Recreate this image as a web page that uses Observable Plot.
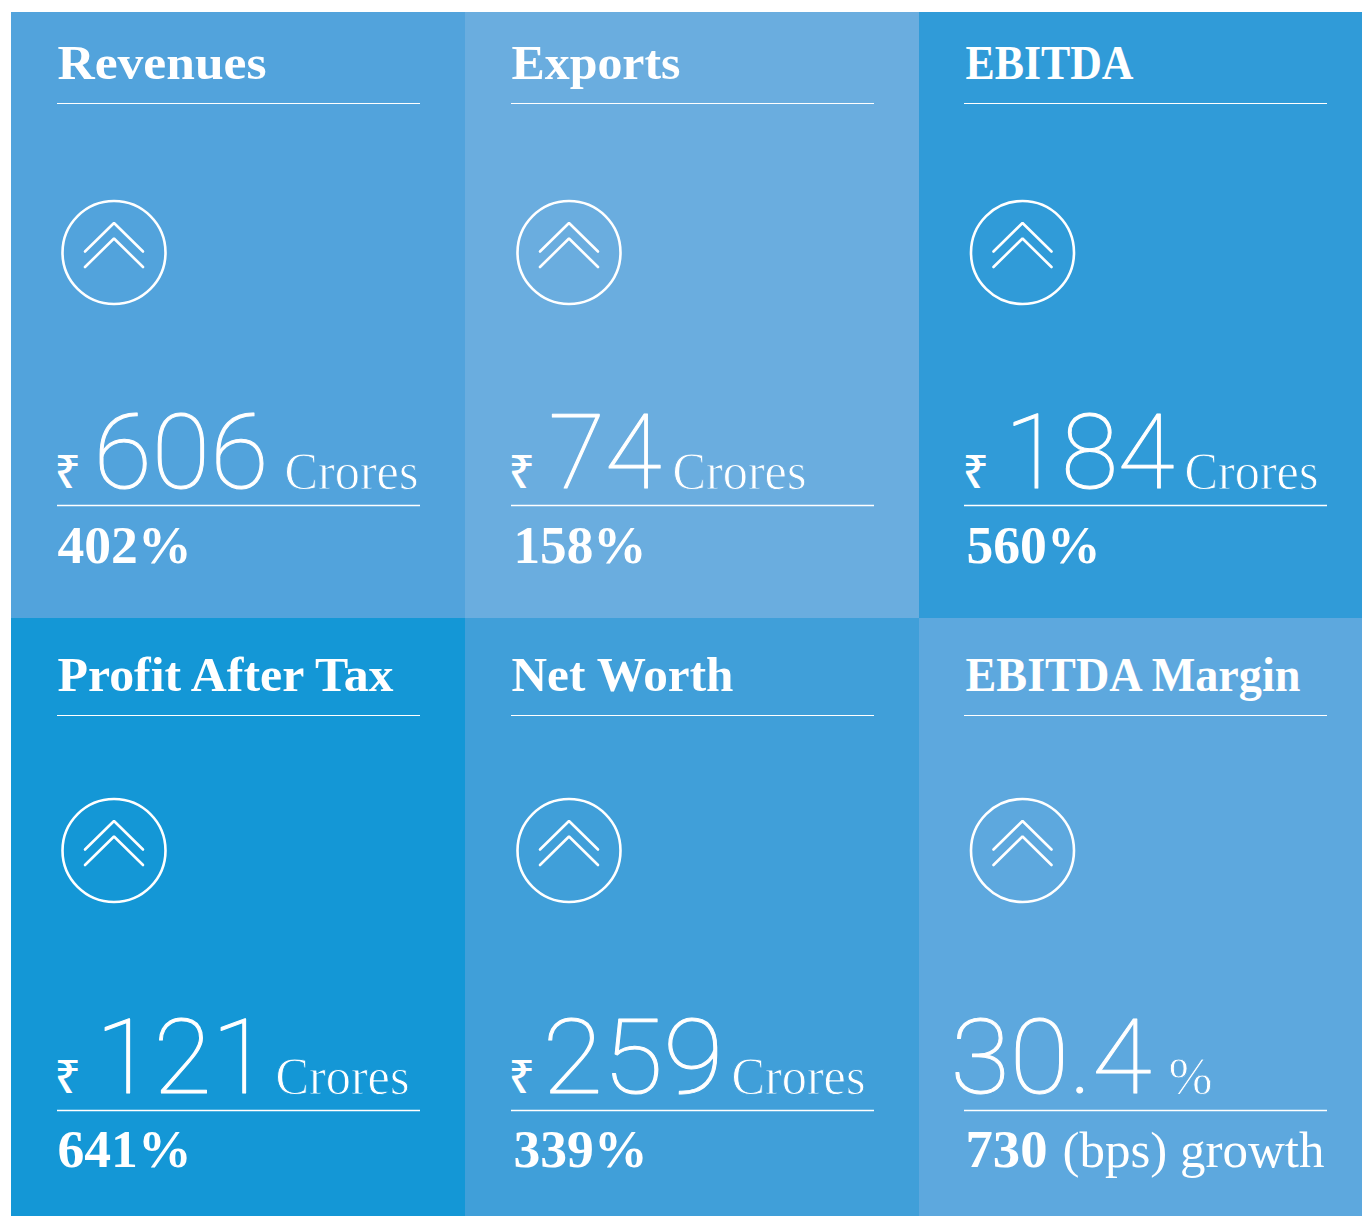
<!DOCTYPE html>
<html><head><meta charset="utf-8">
<script src="https://cdn.jsdelivr.net/npm/d3@7"></script>
<script src="https://cdn.jsdelivr.net/npm/@observablehq/plot@0.6"></script>
<style>html,body{margin:0;padding:0;background:#fff}svg{display:block}</style>
</head><body><div id="chart"></div>
<script>
const titles = ["Revenues","Exports","EBITDA","Profit After Tax","Net Worth","EBITDA Margin"];
const values = ["606","74","184","121","259","30.4"];
const units = ["Crores","Crores","Crores","Crores","Crores","%"];
const currency = ["₹","₹","₹","₹","₹",""];
const growth = ["402%","158%","560%","641%","339%","730"];
const growthSuffix = ["","","","","","(bps) growth"];
const fills = ["#52a3dc","#6aaddf","#309bd8","#1497d6","#409fd9","#5da8de"];

// layout (pixel domain = page)
const colX = [11,465,919,1362], rowY = [12,618,1216];
const textX = [57,511,965], ruleX = [57,511,964], circX = [113.5,568.5,1022];
const R = {title:[78,690], rule1:[103,715], circle:[252,850], num:[487,1092], rule2:[505,1110], pct:[562,1166]};
const numX = [93,548,1004,95,542,950], unitX = [284,672,1184,275,731,1168];
const growX = [57,513,966,57,513,965];
const titleW = [209,169,168,336,222,335], numW = [175,113,170,174,181,201], unitW = [134,134,134,134,134,44], growW = [134,133,134,134,134,82];

const cells = titles.map((t,i)=>{const c=i%3,r=Math.floor(i/3);return {
  i,c,r,title:t,value:values[i],unit:units[i],cur:currency[i],growth:growth[i],suffix:growthSuffix[i],fill:fills[i],
  x1:colX[c],x2:colX[c+1],y1:rowY[r],y2:rowY[r+1],tx:textX[c],rx:ruleX[c],cx:circX[c]
};});
const cheva = cells.flatMap(d=>[0,1].flatMap(k=>[[-29,28.5],[0,0],[29,28.5]].map(([dx,dy])=>({
  id:d.i+"-"+k,x:d.cx+dx,y:R.circle[d.r]-29.5+k*15.5+dy}))));

const serif='"Liberation Serif",serif', thin='Roboto,sans-serif';
// fit each text to the width it has in the reference
const fit = widths => (i,s,c,d,ctx,next)=>{const g=next(i,s,c,d,ctx);
  g.querySelectorAll("text").forEach((t,k)=>{t.setAttribute("textLength",widths[i[k]]);t.setAttribute("lengthAdjust","spacingAndGlyphs");});return g;};
const plot = Plot.plot({
  width:1362,height:1216,margin:0,
  x:{domain:[0,1362],range:[0,1362],axis:null},
  y:{domain:[0,1216],range:[0,1216],axis:null},
  style:{background:"#fff"},
  marks:[
    Plot.rect(cells,{x1:"x1",x2:"x2",y1:"y1",y2:"y2",fill:"fill"}),
    Plot.text(cells,{x:"tx",y:d=>R.title[d.r],text:"title",textAnchor:"start",lineAnchor:"bottom",fill:"#fff",fontFamily:serif,fontWeight:700,fontSize:48,render:fit(titleW)}),
    Plot.ruleY(cells,{x1:"rx",x2:d=>d.rx+363,y:d=>R.rule1[d.r],stroke:"#fff",strokeWidth:1}),
    Plot.ruleY(cells,{x1:"rx",x2:d=>d.rx+363,y:d=>R.rule2[d.r],stroke:"#fff",strokeWidth:1.3}),
    Plot.dot(cells,{x:"cx",y:d=>R.circle[d.r],r:51.5,stroke:"#fff",strokeWidth:2.6,fill:"none"}),
    Plot.line(cheva,{x:"x",y:"y",z:"id",stroke:"#fff",strokeWidth:2.6,curve:"linear",strokeLinejoin:"miter",strokeLinecap:"round"}),
    Plot.text(cells,{x:"tx",y:d=>R.num[d.r],text:"cur",textAnchor:"start",lineAnchor:"bottom",dx:-3,dy:0,fill:"#fff",fontFamily:"Noto Sans, DejaVu Sans",fontWeight:500,fontSize:46}),
    Plot.text(cells,{x:d=>numX[d.i],y:d=>R.num[d.r],text:"value",textAnchor:"start",lineAnchor:"bottom",fill:"#fff",stroke:"#fff",strokeWidth:1,fontFamily:thin,fontWeight:100,fontSize:104,render:fit(numW)}),
    Plot.text(cells,{x:d=>unitX[d.i],y:d=>R.num[d.r]+1,text:"unit",textAnchor:"start",lineAnchor:"bottom",fill:"#fff",stroke:"fill",strokeWidth:0.9,paintOrder:"normal",fontFamily:serif,fontWeight:400,fontSize:53,render:fit(unitW)}),
    Plot.text(cells,{x:d=>growX[d.i],y:d=>R.pct[d.r],text:"growth",textAnchor:"start",lineAnchor:"bottom",fill:"#fff",fontFamily:serif,fontWeight:700,fontSize:52,render:fit(growW)}),
    Plot.text(cells.filter(d=>d.suffix),{x:1062,y:d=>R.pct[d.r],text:"suffix",textAnchor:"start",lineAnchor:"bottom",fill:"#fff",fontFamily:serif,fontWeight:400,fontSize:50,render:fit([262])})
  ]
});
document.getElementById("chart").append(plot);
</script></body></html>
